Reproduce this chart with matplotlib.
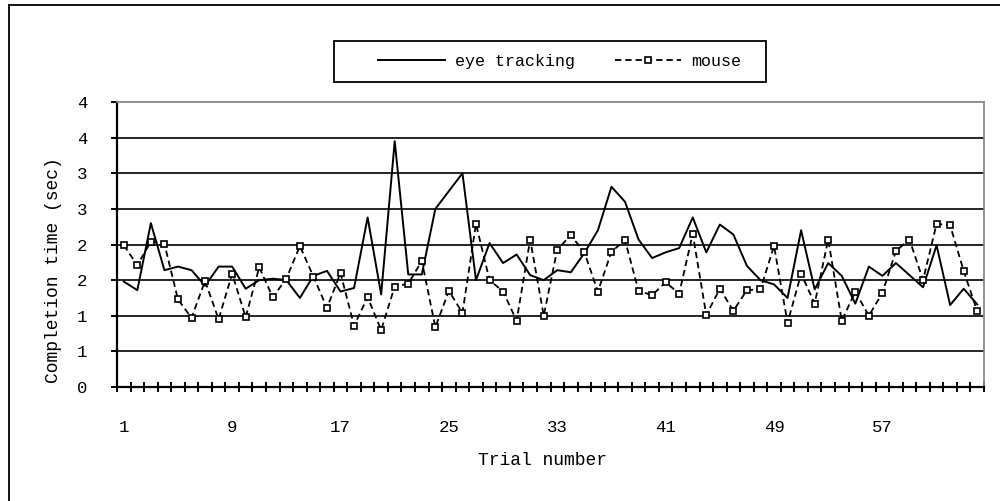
import matplotlib
matplotlib.use("Agg")
import matplotlib.pyplot as plt
from matplotlib.lines import Line2D
from matplotlib.patches import Rectangle

plt.rcParams['font.family'] = ['Liberation Mono', 'DejaVu Sans']

trials = list(range(1, 65))
eye_tracking = [1.48, 1.36, 2.30, 1.64, 1.69, 1.64, 1.42, 1.69, 1.69, 1.38,
                1.50, 1.52, 1.50, 1.25, 1.56, 1.63, 1.34, 1.39, 2.38, 1.30,
                3.45, 1.58, 1.58, 2.50, 2.75, 3.00, 1.50, 2.02, 1.74, 1.86,
                1.57, 1.50, 1.64, 1.61, 1.88, 2.20, 2.81, 2.60, 2.07, 1.81,
                1.89, 1.95, 2.38, 1.89, 2.28, 2.14, 1.70, 1.50, 1.44, 1.25,
                2.20, 1.37, 1.74, 1.56, 1.17, 1.69, 1.56, 1.74, 1.57, 1.40,
                1.99, 1.15, 1.38, 1.16]
mouse = [1.99, 1.71, 2.04, 2.01, 1.23, 0.97, 1.49, 0.95, 1.59, 0.98,
         1.68, 1.26, 1.52, 1.98, 1.55, 1.11, 1.60, 0.86, 1.26, 0.80,
         1.41, 1.45, 1.77, 0.84, 1.35, 1.04, 2.29, 1.50, 1.34, 0.93,
         2.07, 1.00, 1.93, 2.13, 1.89, 1.34, 1.90, 2.06, 1.35, 1.29,
         1.47, 1.31, 2.15, 1.01, 1.38, 1.07, 1.36, 1.37, 1.98, 0.90,
         1.59, 1.17, 2.07, 0.93, 1.34, 1.00, 1.32, 1.91, 2.07, 1.50,
         2.29, 2.27, 1.63, 1.06]

x_labels = [1, 9, 17, 25, 33, 41, 49, 57]
y_ticks = [0, 0.5, 1, 1.5, 2, 2.5, 3, 3.5, 4]
y_labels = ['0', '1', '1', '2', '2', '3', '3', '4', '4']

fig = plt.figure(figsize=(10, 5.01), dpi=100)
ax = fig.add_axes([0.117, 0.2275, 0.867, 0.5689])

ax.plot(trials, eye_tracking, color='black', lw=1.4, label='eye tracking')
ax.plot(trials, mouse, color='black', lw=1.3, ls=(0, (3.5, 2.2)),
        marker='s', ms=5, mfc='white', mec='black', mew=1.2, label='mouse')

ax.set_xlim(0.5, 64.5)
ax.set_ylim(0, 4)

# horizontal grid lines
for yv in y_ticks[1:-1]:
    ax.axhline(yv, color='black', lw=1.2, zorder=0)

ax.set_yticks(y_ticks)
ax.set_yticklabels(y_labels)
ax.set_xticks(x_labels)
ax.set_xticklabels([str(v) for v in x_labels])
ax.set_xticks([t + 0.5 for t in range(0, 65)], minor=True)

ax.tick_params(axis='x', which='major', length=0, pad=23.5, labelsize=12.5)
ax.tick_params(axis='x', which='minor', direction='inout', length=7.5, width=1.4)
ax.tick_params(axis='y', which='major', direction='out', length=4.5, width=1.4,
               pad=17, labelsize=12.5)

for side in ['left', 'bottom']:
    ax.spines[side].set_linewidth(1.6)
    ax.spines[side].set_color('black')
for side in ['top', 'right']:
    ax.spines[side].set_linewidth(1.3)
    ax.spines[side].set_color('#888888')

ax.set_ylabel('Completion time (sec)', fontsize=13)
ax.yaxis.set_label_coords(-0.0635, 0.41)
ax.set_xlabel('Trial number', fontsize=13)
ax.xaxis.set_label_coords(0.491, -0.228)

# legend (frame drawn separately)
fig.legend(loc='center left', bbox_to_anchor=(0.378, 0.8772),
           ncol=2, fontsize=12, handlelength=4.0, handletextpad=0.6,
           columnspacing=2.4, frameon=False, borderpad=0, borderaxespad=0)
fig.add_artist(Rectangle((0.334, 0.8363), 0.432, 0.0818, fill=False,
                         edgecolor='black', lw=1.3, transform=fig.transFigure))

# outer chart border
fig.add_artist(Line2D([0.009, 0.009], [0.0, 0.99], color='black', lw=1.3,
                      transform=fig.transFigure))
fig.add_artist(Line2D([0.009, 1.0], [0.99, 0.99], color='black', lw=1.3,
                      transform=fig.transFigure))

fig.savefig('out.png', dpi=100)
